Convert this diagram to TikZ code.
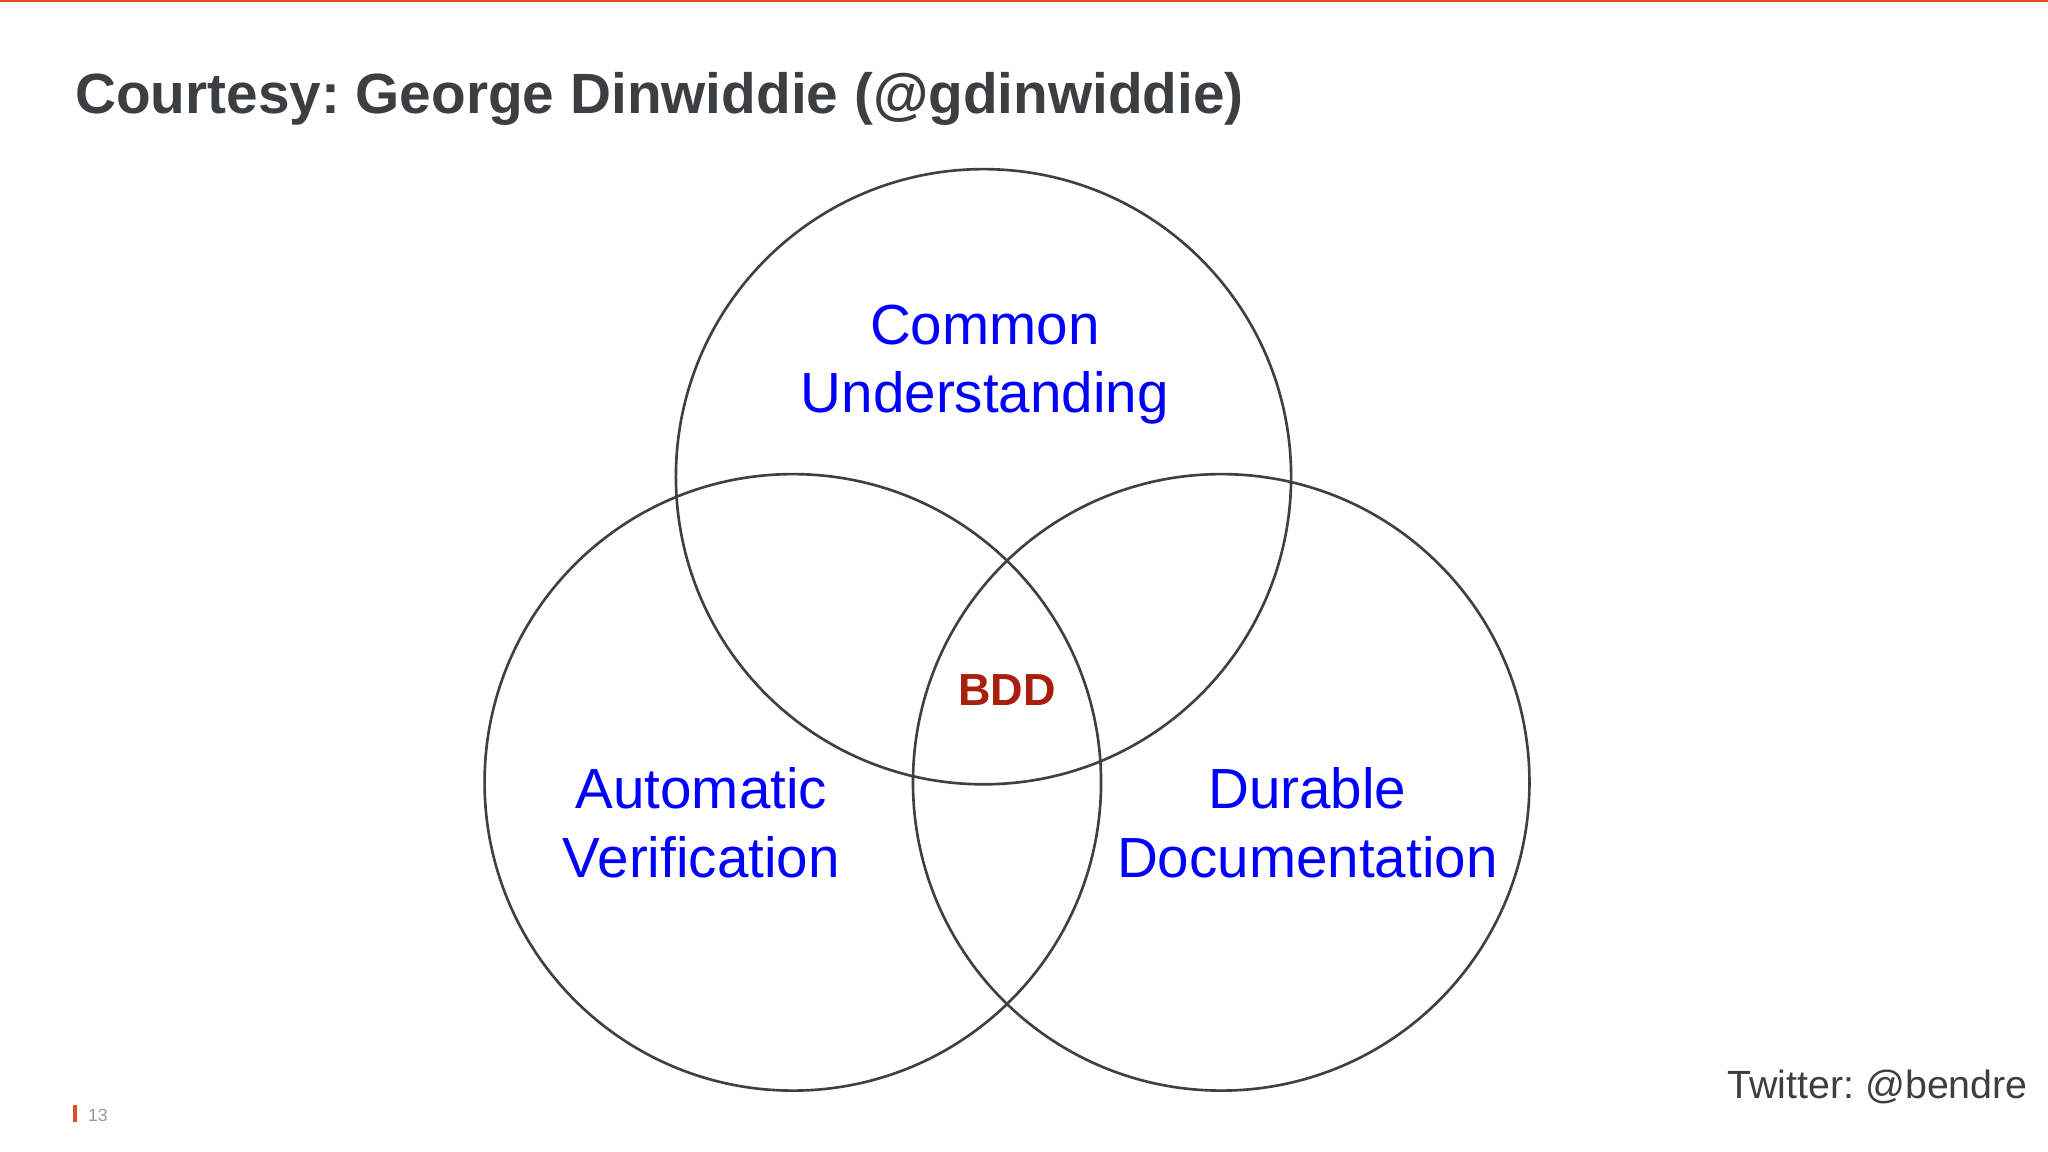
\documentclass[tikz,border=0pt]{standalone}
\usepackage{fontspec}
\setmainfont{Liberation Sans}
\frenchspacing
\definecolor{titlegray}{HTML}{3C3F42}
\definecolor{bddred}{HTML}{A8200D}
\definecolor{topline}{HTML}{E0501E}
\tikzset{venn/.style={draw=black!75,line width=0.75pt},
lbl/.style={text=blue,font=\fontsize{16.1}{19.5}\selectfont,align=center}}
\begin{document}
\begin{tikzpicture}[x=0.013061cm,y=-0.013061cm]
\useasboundingbox[fill=white] (0,0) rectangle (1568,882);
\draw[topline,line width=1pt] (0,0.5) -- (1568,0.5);
\node[anchor=west,inner sep=0,text=titlegray,font=\fontsize{16.15}{18}\selectfont\bfseries] (title) at (57,76) {Courtesy: George Dinwiddie (@gdinwiddie)};
\draw[venn] (753,365) circle[radius=235.5];
\draw[venn] (607,599) circle[radius=236];
\draw[venn] (935,599) circle[radius=236];
\node[lbl] (cu) at (754,279) {Common\\Understanding};
\node[lbl] (av) at (537,630) {Automatic\\Verification};
\node[lbl] (dd) at (1001,630) {Durable\\Documentation};
\node[text=bddred,font=\fontsize{12.8}{14}\selectfont\bfseries] (bdd) at (771,528) {BDD};
\node[anchor=east,inner sep=0,text=titlegray,font=\fontsize{11.2}{12}\selectfont] (tw) at (1553,832) {Twitter: @bendre};
\fill[topline] (56,846) rectangle (59,859);
\node[anchor=west,inner sep=0,text=black!40,font=\fontsize{5}{6}\selectfont] (pg) at (67,854) {13};
\end{tikzpicture}
\end{document}
